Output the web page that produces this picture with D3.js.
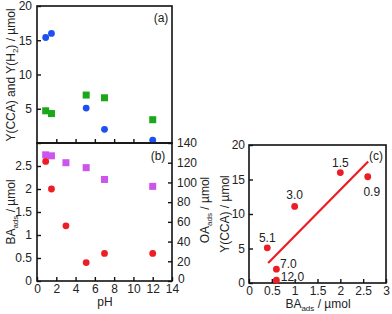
<!DOCTYPE html>
<html>
<head>
<meta charset="utf-8">
<script src="https://cdn.jsdelivr.net/npm/d3@7"></script>
<style>
  body { margin: 0; background: #fff; }
  svg { display: block; font-family: "Liberation Sans", Arial, sans-serif; }
  text { fill: #222; }
</style>
</head>
<body>
<svg id="chart" width="392" height="314"></svg>
<script>
// data
var phCCA = [0.9, 1.5, 5.1, 7.0, 12.0];
var yCCA = [15.4, 16.0, 5.1, 2.0, 0.4];
var phH2 = [0.9, 1.5, 5.1, 7.0, 12.0];
var yH2 = [4.7, 4.3, 7.0, 6.6, 3.4];

var phAds = [0.9, 1.5, 3.0, 5.1, 7.0, 12.0];
var baAds = [2.6, 2.0, 1.2, 0.4, 0.6, 0.6];
var oaAds = [128, 127, 120, 115, 103, 96];

// panel c: BA_ads vs Y(CCA), labelled with pH
var cLabels = ["0.9", "1.5", "3.0", "5.1", "7.0", "12.0"];
var cBA = [2.6, 2.0, 1.0, 0.4, 0.6, 0.6];
var cCCA = [15.4, 16.0, 11.1, 5.1, 2.0, 0.4];
var fitLine = [[0.42, 2.9], [2.61, 17.6]];

var pHTicks = [0, 2, 4, 6, 8, 10, 12, 14];
var yATicks = [0, 5, 10, 15, 20];
var baTicks = [0, 0.5, 1, 1.5, 2, 2.5];
var oaTicks = [0, 20, 40, 60, 80, 100, 120, 140];
var cXTicks = [0, 0.5, 1, 1.5, 2, 2.5, 3];
var cYTicks = [0, 5, 10, 15, 20];

var BLUE = "#1f4ff0", GREEN = "#1aa81a", RED = "#ee1c25", PURPLE = "#cc55ee";

var svg = d3.select("#chart");
var TL = 4, FS = 12;

var x = d3.scaleLinear().domain([0, 14]).range([37, 172]);
var yA = d3.scaleLinear().domain([0, 20]).range([143, 6]);
var yB = d3.scaleLinear().domain([0, 3]).range([281, 143]);
var yB2 = d3.scaleLinear().domain([0, 140]).range([281, 143]);
var xC = d3.scaleLinear().domain([0, 3]).range([249, 386]);
var yC = d3.scaleLinear().domain([0, 20]).range([283, 145]);

function fmt(d) { return String(d); }

function styleAxis(g) {
	g.select(".domain").remove();
	g.selectAll(".tick line").attr("stroke", "#111").attr("stroke-width", 1.4);
	g.selectAll(".tick text").attr("font-size", FS).attr("fill", "#222")
		.attr("font-family", "Liberation Sans, Arial, sans-serif");
}

function frame(x0, y0, x1, y1) {
	svg.append("rect").attr("x", x0).attr("y", y0)
		.attr("width", x1 - x0).attr("height", y1 - y0)
		.attr("fill", "none").attr("stroke", "#111").attr("stroke-width", 1.6);
}

function adsTitle(t) {
	t.append("tspan").text("BA");
	t.append("tspan").attr("font-size", 8).attr("dy", 3).text("ads");
	t.append("tspan").attr("dy", -3).text(" / \u00b5mol");
}

// ---- panel (a)
svg.append("g").attr("transform", "translate(37,0)")
	.call(d3.axisLeft(yA).tickValues(yATicks).tickSizeInner(-TL).tickSizeOuter(0).tickPadding(5).tickFormat(fmt))
	.call(styleAxis)
	.selectAll(".tick text").filter(function(d) { return d == 0; }).remove();
svg.append("g").attr("transform", "translate(0,143)")
	.call(d3.axisTop(x).tickValues([2, 4, 6, 8, 10, 12]).tickSizeInner(TL).tickSizeOuter(0).tickFormat(""))
	.call(styleAxis);
frame(37, 6, 172, 143);

svg.append("g").selectAll("circle").data(phCCA).enter().append("circle")
	.attr("cx", function(d) { return x(d); })
	.attr("cy", function(d, i) { return yA(yCCA[i]); })
	.attr("r", 3.4).attr("fill", BLUE);
svg.append("g").selectAll("rect").data(phH2).enter().append("rect")
	.attr("x", function(d) { return x(d) - 3.5; })
	.attr("y", function(d, i) { return yA(yH2[i]) - 3.5; })
	.attr("width", 7).attr("height", 7).attr("fill", GREEN);

svg.append("text").attr("x", 161).attr("y", 22).attr("text-anchor", "middle")
	.attr("font-size", FS).text("(a)");

// ---- panel (b)
svg.append("g").attr("transform", "translate(37,0)")
	.call(d3.axisLeft(yB).tickValues(baTicks).tickSizeInner(-TL).tickSizeOuter(0).tickPadding(5).tickFormat(fmt))
	.call(styleAxis);
svg.append("g").attr("transform", "translate(172,0)")
	.call(d3.axisRight(yB2).tickValues(oaTicks).tickSizeInner(-TL).tickSizeOuter(0).tickPadding(5).tickFormat(fmt))
	.call(styleAxis)
	.selectAll(".tick text").filter(function(d) { return d == 0; })
	.attr("dy", "0.1em").attr("x", 6);
svg.append("g").attr("transform", "translate(0,281)")
	.call(d3.axisBottom(x).tickValues(pHTicks).tickSizeInner(-TL).tickSizeOuter(0).tickPadding(3).tickFormat(fmt))
	.call(styleAxis);
frame(37, 143, 172, 281);

svg.append("g").selectAll("rect").data(phAds).enter().append("rect")
	.attr("x", function(d) { return x(d) - 3.5; })
	.attr("y", function(d, i) { return yB2(oaAds[i]) - 3.5; })
	.attr("width", 7).attr("height", 7).attr("fill", PURPLE);
svg.append("g").selectAll("circle").data(phAds).enter().append("circle")
	.attr("cx", function(d) { return x(d); })
	.attr("cy", function(d, i) { return yB(baAds[i]); })
	.attr("r", 3.4).attr("fill", RED);

svg.append("text").attr("x", 158).attr("y", 160).attr("text-anchor", "middle")
	.attr("font-size", FS).text("(b)");

// axis titles for a/b
svg.append("text").attr("transform", "translate(15,75) rotate(-90)").attr("text-anchor", "middle")
	.attr("font-size", FS)
	.call(function(t) {
		t.append("tspan").text("Y(CCA) and Y(H");
		t.append("tspan").attr("font-size", 8).attr("dy", 3).text("2");
		t.append("tspan").attr("dy", -3).text(")  / \u00b5mol");
	});
svg.append("text").attr("transform", "translate(15,212) rotate(-90)").attr("text-anchor", "middle")
	.attr("font-size", FS).call(adsTitle);
svg.append("text").attr("transform", "translate(209,210) rotate(-90)").attr("text-anchor", "middle")
	.attr("font-size", FS)
	.call(function(t) {
		t.append("tspan").text("OA");
		t.append("tspan").attr("font-size", 8).attr("dy", 3).text("ads");
		t.append("tspan").attr("dy", -3).text(" / \u00b5mol");
	});
svg.append("text").attr("x", 105).attr("y", 306).attr("text-anchor", "middle")
	.attr("font-size", FS).text("pH");

// ---- panel (c)
svg.append("g").attr("transform", "translate(249,0)")
	.call(d3.axisLeft(yC).tickValues(cYTicks).tickSizeInner(-TL).tickSizeOuter(0).tickPadding(4).tickFormat(fmt))
	.call(styleAxis);
svg.append("g").attr("transform", "translate(0,283)")
	.call(d3.axisBottom(xC).tickValues(cXTicks).tickSizeInner(-TL).tickSizeOuter(0).tickPadding(3).tickFormat(fmt))
	.call(styleAxis);
frame(249, 145, 386, 283);

svg.append("path").datum(fitLine)
	.attr("d", d3.line().x(function(d) { return xC(d[0]); }).y(function(d) { return yC(d[1]); }))
	.attr("stroke", RED).attr("stroke-width", 2.2).attr("fill", "none");

svg.append("g").selectAll("circle").data(cBA).enter().append("circle")
	.attr("cx", function(d) { return xC(d); })
	.attr("cy", function(d, i) { return yC(cCCA[i]); })
	.attr("r", 3.4).attr("fill", RED);

// pH labels next to points (offset of text baseline from the point)
var labOff = { "0.9": [4, 19], "1.5": [0, -6], "3.0": [0, -7], "5.1": [0, -6], "7.0": [12, -1], "12.0": [16, 1] };
svg.append("g").selectAll("text").data(cLabels).enter().append("text")
	.attr("x", function(d, i) { return xC(cBA[i]) + labOff[d][0]; })
	.attr("y", function(d, i) { return yC(cCCA[i]) + labOff[d][1]; })
	.attr("text-anchor", "middle").attr("font-size", FS).text(function(d) { return d; });

svg.append("text").attr("x", 376).attr("y", 160).attr("text-anchor", "middle")
	.attr("font-size", FS).text("(c)");

svg.append("text").attr("transform", "translate(229,214) rotate(-90)").attr("text-anchor", "middle")
	.attr("font-size", FS).text("Y(CCA) / \u00b5mol");
svg.append("text").attr("x", 318).attr("y", 308).attr("text-anchor", "middle")
	.attr("font-size", FS).call(adsTitle);
</script>
</body>
</html>
